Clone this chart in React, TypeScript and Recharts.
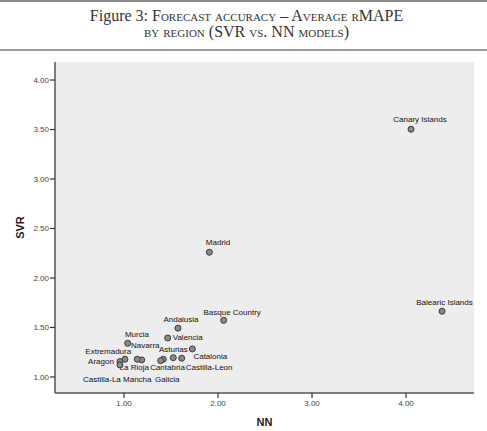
import React from 'react';
import { ScatterChart, Scatter, XAxis, YAxis, CartesianGrid } from 'recharts';

const regions = [
  'Canary Islands', 'Madrid', 'Balearic Islands', 'Basque Country', 'Andalusia',
  'Valencia', 'Murcia', 'Navarra', 'Asturias', 'Extremadura', 'Aragon',
  'La Rioja', 'Cantabria', 'Catalonia', 'Castilla-Leon', 'Castilla-La Mancha', 'Galicia',
];
const nnValues = [
  4.053, 1.908, 4.383, 2.06, 1.574,
  1.465, 1.039, 1.188, 1.727, 1.01, 0.957,
  1.141, 1.418, 1.614, 1.524, 0.957, 1.39,
];
const svrValues = [
  3.503, 2.26, 1.664, 1.572, 1.493,
  1.394, 1.34, 1.172, 1.283, 1.179, 1.155,
  1.179, 1.179, 1.189, 1.195, 1.121, 1.165,
];
const xTicks = [1, 2, 3, 4];
const yTicks = [1, 1.5, 2, 2.5, 3, 3.5, 4];
const xDomain = [0.266, 4.723];
const yDomain = [0.838, 4.182];

// label placement relative to each marker (dx, dy of text centre, in px)
const labelOffsets: Record<string, [number, number]> = {
  'Canary Islands': [9, -9.5],
  'Madrid': [8.7, -9.3],
  'Balearic Islands': [2.5, -9],
  'Basque Country': [8.5, -8.3],
  'Andalusia': [3, -8.7],
  'Valencia': [20, 0],
  'Murcia': [9.3, -9.3],
  'Navarra': [3.6, -14.3],
  'Extremadura': [-16.7, -7.6],
  'Aragon': [-19, 0.3],
  'La Rioja': [-3, 8.7],
  'Cantabria': [4.2, 8.7],
  'Galicia': [6.6, 18.6],
  'Castilla-Leon': [35.9, 10.3],
  'Catalonia': [28.6, -1.6],
  'Asturias': [-19, 0.3],
  'Castilla-La Mancha': [-2.7, 14.3],
};

const data = regions.map((name, i) => ({ name, x: nnValues[i], y: svrValues[i] }));

const FONT = '"Liberation Sans", Arial, sans-serif';
const SERIF = '"Liberation Serif", "Times New Roman", serif';

const PointShape = (props: any) => {
  const { cx, cy, payload } = props;
  const off = labelOffsets[payload.name] || [0, -9];
  return (
    <g>
      <circle cx={cx} cy={cy} r={3} fill="#8a8a8a" stroke="#3a3a3a" strokeWidth={1} />
      <text
        x={cx + off[0]}
        y={cy + off[1]}
        textAnchor="middle"
        dominantBaseline="central"
        fontFamily={FONT}
        fontSize={8}
        fill="#111"
      >
        {payload.name}
      </text>
    </g>
  );
};

const fmt = (v: number) => v.toFixed(2);

export default function App() {
  return (
    <div style={{ position: 'absolute', left: 0, top: 0, width: 487, height: 431, background: '#fff', overflow: 'hidden' }}>
      <div style={{ position: 'absolute', left: 0, top: 0, width: 487, height: 2, background: '#8a8a8a' }} />
      <div style={{ position: 'absolute', left: 0, top: 49, width: 487, height: 2, background: '#9a9a9a' }} />
      <div
        style={{
          position: 'absolute', left: 0, top: 7.6, width: 493, textAlign: 'center',
          fontFamily: SERIF, fontSize: 16, lineHeight: '16px', color: '#333', whiteSpace: 'nowrap',
        }}
      >
        Figure 3: <span style={{ fontVariant: 'small-caps' }}>Forecast accuracy – Average rMAPE</span>
      </div>
      <div
        style={{
          position: 'absolute', left: 0, top: 24.3, width: 493, textAlign: 'center',
          fontFamily: SERIF, fontSize: 16, lineHeight: '16px', color: '#333', whiteSpace: 'nowrap',
          fontVariant: 'small-caps',
        }}
      >
        by region (SVR vs. NN models)
      </div>
      <div style={{ position: 'absolute', left: 0, top: 0 }}>
        <ScatterChart width={487} height={431} margin={{ top: 62, right: 13, bottom: 8, left: 10 }}>
          <CartesianGrid fill="#ededed" horizontal={false} vertical={false} />
          <XAxis
            type="number"
            dataKey="x"
            domain={xDomain}
            ticks={xTicks}
            allowDataOverflow
            tickFormatter={fmt}
            height={30}
            tickSize={5}
            tickMargin={2}
            stroke="#555"
            axisLine={{ stroke: '#555', strokeWidth: 1.5 }}
            tickLine={{ stroke: '#333', strokeWidth: 1.2 }}
            tick={{ fontFamily: FONT, fontSize: 8, fill: '#444' }}
            label={(p: any) => {
              const vb = p.viewBox;
              return (
                <text x={vb.x + vb.width / 2} y={vb.y + 28.7} textAnchor="middle" dominantBaseline="central"
                  fontFamily={FONT} fontSize={11} fontWeight="bold" fill="#222">NN</text>
              );
            }}
          />
          <XAxis
            xAxisId="top"
            orientation="top"
            type="number"
            domain={xDomain}
            allowDataOverflow
            height={0}
            tick={false}
            tickLine={false}
            axisLine={{ stroke: '#555', strokeWidth: 1.5 }}
          />
          <YAxis
            type="number"
            dataKey="y"
            domain={yDomain}
            ticks={yTicks}
            allowDataOverflow
            tickFormatter={fmt}
            width={45}
            tickSize={5}
            tickMargin={1}
            axisLine={{ stroke: '#555', strokeWidth: 1.5 }}
            tickLine={{ stroke: '#333', strokeWidth: 1.2 }}
            tick={{ fontFamily: FONT, fontSize: 8, fill: '#444' }}
            label={(p: any) => {
              const vb = p.viewBox;
              const cx = vb.x + 10;
              const cy = vb.y + vb.height / 2;
              return (
                <text x={cx} y={cy} textAnchor="middle" dominantBaseline="central"
                  transform={`rotate(-90 ${cx} ${cy})`}
                  fontFamily={FONT} fontSize={11} fontWeight="bold" fill="#222">SVR</text>
              );
            }}
          />
          <YAxis
            yAxisId="right"
            orientation="right"
            type="number"
            domain={yDomain}
            allowDataOverflow
            width={0}
            tick={false}
            tickLine={false}
            axisLine={{ stroke: '#555', strokeWidth: 1.5 }}
          />
          <Scatter data={data} isAnimationActive={false} shape={PointShape} />
        </ScatterChart>
      </div>
    </div>
  );
}
